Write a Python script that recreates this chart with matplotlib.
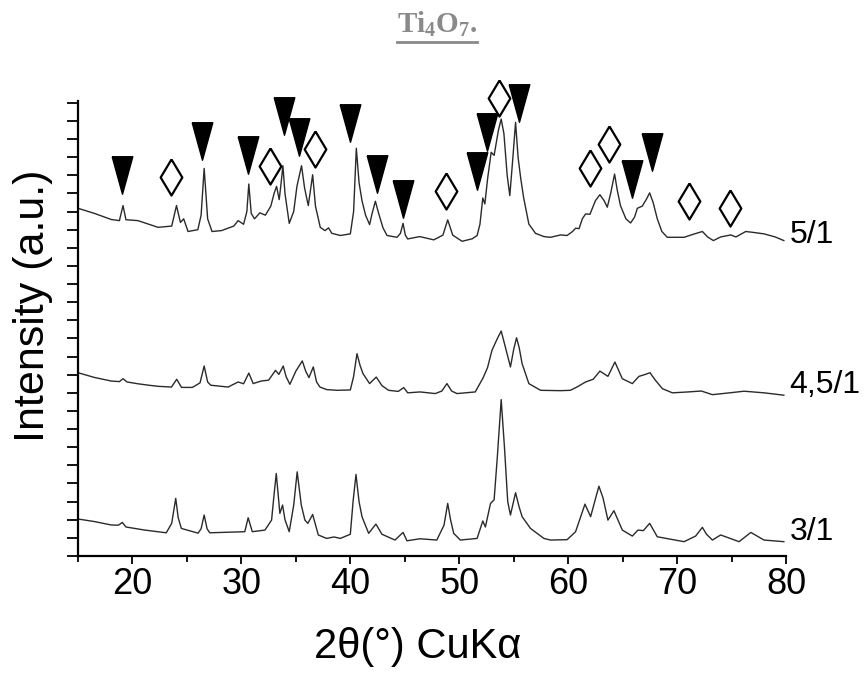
import matplotlib
matplotlib.use('Agg')
import matplotlib.pyplot as plt
from matplotlib.lines import Line2D
from matplotlib.ticker import MultipleLocator

plt.rcParams['font.family'] = ['Liberation Sans', 'DejaVu Sans']
plt.rcParams['mathtext.fontset'] = 'custom'
plt.rcParams['mathtext.rm'] = 'Liberation Serif:bold'
plt.rcParams['mathtext.it'] = 'Liberation Serif:bold'
plt.rcParams['mathtext.bf'] = 'Liberation Serif:bold'

# 2theta / intensity (arbitrary units, stacked offsets already included)
theta_51 = [15.0, 16.5, 18.06, 18.8, 19.13, 19.4, 20.5, 21.5, 22.35, 23.6, 24.04, 24.4, 24.7, 25.1,
            26.0, 26.3, 26.58, 26.9, 27.3, 28.17, 29.3, 29.7, 30.2, 30.5, 30.68, 30.9, 31.2, 31.7,
            32.2, 32.7, 33.0, 33.23, 33.47, 33.65, 33.81, 34.0, 34.39, 34.8, 35.1, 35.52, 35.8, 36.14,
            36.54, 36.8, 37.24, 37.67, 38.0, 38.3, 39.08, 40.0, 40.3, 40.55, 40.8, 41.07, 41.4, 41.77,
            42.0, 42.3, 42.6, 43.0, 43.37, 44.29, 44.6, 44.84, 45.05, 45.27, 46.37, 47.66, 48.5, 48.94,
            49.4, 50.26, 51.2, 51.64, 51.9, 52.16, 52.35, 52.6, 52.93, 53.2, 53.6, 53.85, 54.1, 54.4,
            54.64, 54.9, 55.17, 55.4, 55.63, 55.9, 56.39, 57.0, 57.77, 58.38, 59.3, 59.9, 60.4, 60.68,
            61.0, 61.3, 61.6, 62.0, 62.5, 62.91, 63.3, 63.59, 63.9, 64.26, 64.5, 64.8, 65.3, 65.73,
            66.1, 66.35, 66.8, 67.2, 67.48, 67.8, 68.18, 68.6, 69.1, 70.64, 71.5, 72.32, 72.8, 73.33,
            74.0, 74.93, 75.4, 76.3, 77.0, 77.98, 79.0, 79.8]
int_51 = [19.18, 18.9, 18.56, 18.5, 19.33, 18.55, 18.5, 18.3, 18.13, 18.2, 19.33, 18.4, 18.6, 17.9,
          18.0, 18.8, 21.38, 18.6, 17.9, 17.95, 18.2, 18.5, 18.3, 19.0, 20.52, 18.9, 18.6, 18.93,
          18.8, 19.3, 20.0, 20.39, 19.66, 20.6, 21.53, 20.0, 18.35, 19.0, 20.4, 21.53, 20.3, 19.33,
          21.03, 19.3, 18.13, 17.95, 18.1, 17.8, 17.68, 17.77, 19.0, 22.49, 20.6, 19.6, 18.8, 18.28,
          18.9, 19.57, 18.9, 18.1, 17.68, 17.58, 17.8, 18.35, 17.7, 17.49, 17.62, 17.44, 17.7, 18.54,
          17.7, 17.36, 17.5, 17.68, 18.3, 19.75, 19.42, 20.8, 22.27, 22.1, 23.5, 24.1, 23.3, 21.0,
          19.88, 21.8, 23.92, 22.0, 20.89, 19.8, 18.31, 17.8, 17.62, 17.58, 17.71, 17.68, 17.9, 18.08,
          18.06, 18.6, 18.87, 18.85, 19.6, 19.93, 19.6, 19.24, 20.0, 21.07, 20.2, 19.33, 18.6, 18.37,
          18.7, 19.18, 19.3, 19.7, 20.03, 19.5, 18.6, 17.9, 17.58, 17.58, 17.75, 17.9, 17.6, 17.4,
          17.6, 17.71, 17.6, 17.9, 17.85, 17.77, 17.6, 17.4]

theta_451 = [15.0, 16.5, 18.06, 18.8, 19.13, 19.5, 20.5, 21.5, 22.35, 23.58, 24.06, 24.5, 25.5, 26.2,
             26.58, 26.9, 27.19, 28.78, 29.7, 30.2, 30.68, 31.08, 31.8, 32.5, 33.13, 33.44, 33.84, 34.1,
             34.45, 35.0, 35.59, 35.9, 36.2, 36.6, 36.9, 37.21, 37.82, 38.77, 40.0, 40.3, 40.61, 40.9,
             41.16, 41.77, 42.38, 42.9, 43.51, 44.4, 44.9, 45.27, 46.4, 47.8, 48.4, 48.87, 49.3, 49.79,
             51.47, 52.2, 52.6, 53.0, 53.5, 53.85, 54.2, 54.7, 55.0, 55.26, 55.5, 55.77, 56.39, 57.46,
             59.3, 60.2, 60.8, 61.6, 62.3, 62.91, 63.65, 64.29, 64.97, 65.89, 66.5, 67.0, 67.51, 68.0,
             68.65, 69.57, 71.0, 72.23, 73.24, 74.5, 76.15, 78.0, 79.8]
int_451 = [10.11, 9.85, 9.65, 9.62, 9.78, 9.6, 9.5, 9.42, 9.36, 9.32, 9.75, 9.3, 9.3, 9.55,
           10.48, 9.6, 9.42, 9.32, 9.6, 9.5, 10.09, 9.51, 9.65, 9.7, 10.24, 10.02, 10.48, 9.9,
           9.47, 10.2, 10.76, 10.2, 9.84, 10.43, 9.6, 9.32, 9.18, 9.14, 9.16, 9.9, 11.16, 10.5,
           10.06, 9.51, 9.87, 9.4, 9.14, 9.08, 9.29, 9.0, 9.05, 8.96, 9.1, 9.51, 9.1, 8.96,
           9.05, 9.84, 10.4, 11.34, 12.0, 12.41, 11.6, 10.43, 11.4, 12.04, 11.5, 10.61, 9.51, 9.14,
           9.12, 9.14, 9.32, 9.6, 9.75, 10.2, 9.91, 10.7, 9.78, 9.51, 9.91, 10.0, 10.11, 9.7,
           9.23, 9.0, 9.05, 9.1, 8.9, 8.98, 9.09, 9.0, 8.87]

theta_31 = [15.0, 16.5, 18.06, 18.7, 19.07, 19.4, 21.13, 23.1, 23.6, 23.97, 24.2, 24.49, 26.02, 26.3,
            26.58, 26.85, 27.1, 30.31, 30.62, 31.0, 32.16, 32.77, 33.0, 33.2, 33.53, 33.78, 34.0, 34.39,
            34.8, 35.12, 35.5, 35.83, 36.1, 36.54, 37.06, 37.82, 38.5, 39.08, 40.0, 40.25, 40.52, 40.8,
            41.07, 41.68, 42.35, 42.9, 44.1, 44.84, 45.2, 46.4, 47.94, 48.6, 48.94, 49.2, 49.49, 50.1,
            51.64, 52.16, 52.4, 52.87, 53.2, 53.5, 53.85, 54.15, 54.45, 54.7, 55.17, 55.5, 55.77, 56.54,
            57.77, 58.38, 59.9, 60.68, 61.54, 62.06, 62.82, 63.2, 63.65, 64.2, 64.97, 65.89, 66.41, 66.9,
            67.48, 68.18, 70.64, 71.7, 72.32, 72.7, 73.24, 74.0, 75.69, 76.77, 77.98, 79.8]
int_31 = [2.04, 1.9, 1.71, 1.7, 1.85, 1.6, 1.43, 1.28, 1.8, 3.18, 2.1, 1.52, 1.26, 1.5,
          2.26, 1.5, 1.28, 1.34, 2.11, 1.34, 1.43, 1.98, 3.4, 4.55, 2.35, 2.81, 2.0, 1.34,
          2.8, 4.64, 2.8, 1.98, 1.8, 2.29, 1.16, 0.97, 1.05, 0.97, 1.2, 3.0, 4.5, 3.0,
          2.17, 1.25, 1.76, 1.2, 0.88, 1.3, 0.84, 0.95, 0.88, 1.7, 2.9, 2.0, 1.25, 0.88,
          0.97, 1.93, 1.6, 2.9, 3.1, 5.5, 8.63, 6.0, 3.0, 2.26, 3.49, 2.7, 2.17, 1.52,
          0.97, 0.88, 0.9, 1.34, 2.86, 2.17, 3.85, 3.2, 1.98, 2.5, 1.43, 1.1, 1.43, 1.4,
          1.8, 1.06, 0.79, 1.1, 1.58, 1.2, 0.88, 1.16, 0.79, 1.3, 0.88, 0.79]

# phase markers on the 5/1 pattern
tri_x = [19.0, 26.39, 30.65, 33.87, 35.25, 39.93, 42.41, 44.87, 51.67, 52.59, 55.52, 65.9, 67.67]
tri_y = [21.0, 22.89, 22.14, 24.27, 23.11, 23.9, 21.07, 19.7, 21.22, 23.4, 25.0, 20.78, 22.3]
dia_x = [23.58, 32.61, 36.75, 48.77, 53.63, 62.0, 63.74, 71.1, 74.84]
dia_y = [20.91, 21.51, 22.45, 20.14, 25.29, 21.4, 22.72, 19.59, 19.18]

labels = ['5/1', '4,5/1', '3/1']
label_y = [17.7, 9.44, 1.32]

tri_marker = [(-0.55, 1), (0.55, 1), (0, -1), (-0.55, 1)]
dia_marker = [(0, 1), (0.6, 0), (0, -1), (-0.6, 0), (0, 1)]

fig = plt.figure(figsize=(8.65, 6.75), dpi=100)
ax = fig.add_axes([0.0902, 0.1763, 0.8185, 0.6741])

for th, it in [(theta_51, int_51), (theta_451, int_451), (theta_31, int_31)]:
    ax.plot(th, it, color='#2a2a2a', linewidth=1.0)

ax.plot(tri_x, tri_y, linestyle='none', marker=tri_marker, markersize=27,
        color='black', clip_on=False)
ax.plot(dia_x, dia_y, linestyle='none', marker=dia_marker, markersize=26,
        markerfacecolor='white', markeredgecolor='black', markeredgewidth=1.6, clip_on=False)

for lab, y in zip(labels, label_y):
    ax.text(80.3, y, lab, fontsize=23, ha='left', va='center', clip_on=False)

ax.set_xlim(15, 80)
ax.set_ylim(0, 25.1)
ax.xaxis.set_minor_locator(MultipleLocator(5))
ax.set_xticks([20, 30, 40, 50, 60, 70, 80])
ax.yaxis.set_major_locator(MultipleLocator(1))

for side in ['top', 'right']:
    ax.spines[side].set_visible(False)
for side in ['left', 'bottom']:
    ax.spines[side].set_linewidth(1.6)

ax.tick_params(axis='x', which='major', direction='out', length=6, width=1.3,
               labelsize=26, pad=2)
ax.tick_params(axis='x', which='minor', direction='out', length=4, width=1.3)
ax.tick_params(axis='y', which='major', direction='out', length=8, width=1.3, labelleft=False)

ax.set_xlabel('2θ(°) CuKα', fontsize=30)
ax.xaxis.set_label_coords(0.48, -0.155)
ax.set_ylabel('Intensity (a.u.)', fontsize=31)
ax.yaxis.set_label_coords(-0.035, 0.55)

title = fig.text(0.505, 0.951, r'Ti$_4$O$_7$.', fontsize=21, color='#8a8a8a',
                 fontfamily='Liberation Serif', fontweight='bold', ha='center', va='baseline')
fig.canvas.draw()
bb = title.get_window_extent().transformed(fig.transFigure.inverted())
uy = 1 - 42 / 675
fig.add_artist(Line2D([bb.x0, bb.x1], [uy, uy], color='#8a8a8a', linewidth=2,
                      transform=fig.transFigure))

fig.savefig('out.png', dpi=100)
